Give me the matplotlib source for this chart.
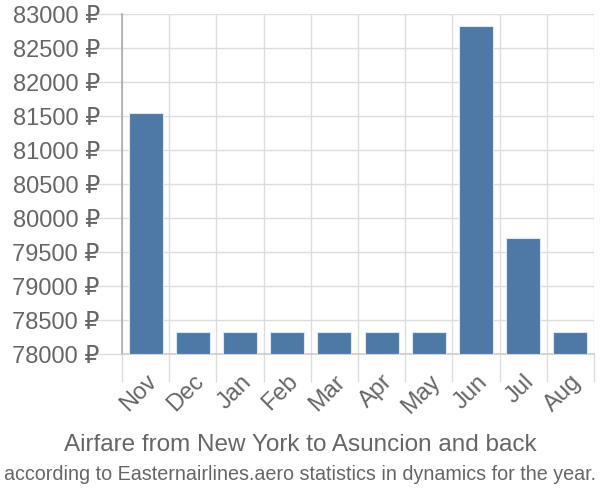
import matplotlib
matplotlib.use("Agg")
import matplotlib.pyplot as plt
import numpy as np

months = ["Nov", "Dec", "Jan", "Feb", "Mar", "Apr", "May", "Jun", "Jul", "Aug"]
prices = [81550, 78330, 78330, 78330, 78330, 78330, 78330, 82830, 79705, 78330]
yticks = list(range(78000, 83001, 500))
ytick_labels = [f"{v} ₽" for v in yticks]

plt.rcParams['font.family'] = ['Liberation Sans', 'DejaVu Sans']

fig = plt.figure(figsize=(6, 5), dpi=100)
ax = fig.add_axes([122/600, 1-354/500, (594-122)/600, (354-14)/500])

x = np.arange(len(months))
ax.bar(x, [p - 78000 for p in prices], bottom=78000, width=0.72,
       color="#4e79a7", edgecolor="#dfe6ef", linewidth=0.8, zorder=3)

ax.set_xlim(-0.5, len(months) - 0.5)
ax.set_ylim(78000, 83000)

ax.set_yticks(yticks)
ax.set_yticklabels(ytick_labels)
ax.set_xticks(x)
ax.set_xticklabels(months, rotation=45, ha="right", rotation_mode="anchor")
ax.set_xticks(np.arange(-0.5, len(months)), minor=True)

ax.tick_params(axis="y", length=20, color="#dddddd", width=1, labelsize=17,
               labelcolor="#666666", pad=-4)
ax.tick_params(axis="x", which="major", length=0, labelsize=17,
               labelcolor="#666666", pad=12)
ax.tick_params(axis="x", which="minor", length=20, color="#dddddd", width=1)

ax.grid(True, axis="y", color="#dddddd", linewidth=1, zorder=0)
ax.grid(True, axis="x", which="minor", color="#dddddd", linewidth=1, zorder=0)
ax.grid(False, axis="x", which="major")

for s in ["top", "right"]:
    ax.spines[s].set_visible(False)
ax.spines["left"].set_color("#aaaaaa")
ax.spines["left"].set_linewidth(1.2)
ax.spines["bottom"].set_color("#cccccc")
ax.spines["bottom"].set_linewidth(1.2)

fig.text(0.5, 1-445/500, "Airfare from New York to Asuncion and back",
         ha="center", va="center", fontsize=17.5, color="#666666")
fig.text(0.5, 1-474/500, "according to Easternairlines.aero statistics in dynamics for the year.",
         ha="center", va="center", fontsize=14.2, color="#666666")

fig.savefig("out.png", dpi=100)
